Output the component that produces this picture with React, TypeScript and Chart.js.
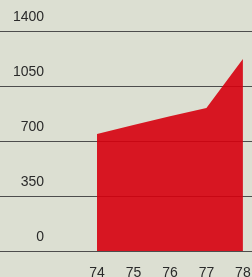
import React, { useEffect, useRef } from "react";
import { Chart, registerables } from "chart.js";

Chart.register(...registerables);

const years = [74, 75, 76, 77, 78];
const values = [745, 802, 858, 910, 1222];
const yTicks = [0, 350, 700, 1050, 1400];

export default function App() {
  const ref = useRef<HTMLCanvasElement | null>(null);

  useEffect(() => {
    if (!ref.current) return;
    const chart = new Chart(ref.current, {
      type: "line",
      data: {
        datasets: [
          {
            data: years.map((y, i) => ({ x: y, y: values[i] })),
            backgroundColor: "rgba(214,0,14,0.9)",
            borderColor: "rgba(214,0,14,0.9)",
            borderWidth: 0,
            pointRadius: 0,
            fill: "origin",
            tension: 0,
          },
        ],
      },
      options: {
        animation: false,
        responsive: false,
        maintainAspectRatio: false,
        layout: { padding: { top: 31, left: 0, right: 0, bottom: 0 } },
        plugins: { legend: { display: false }, tooltip: { enabled: false } },
        scales: {
          x: {
            type: "linear",
            min: 71.34,
            max: 78.25,
            grid: { display: false },
            border: { display: false },
            afterBuildTicks: (scale: any) => {
              scale.ticks = years.map((v) => ({ value: v }));
            },
            afterFit: (scale: any) => {
              scale.height = 26;
              scale.paddingLeft = 0;
              scale.paddingRight = 0;
            },
            ticks: {
              padding: 6,
              maxRotation: 0,
              autoSkip: false,
              color: "#2a2a2a",
              font: { family: "'Liberation Sans', Arial, sans-serif", size: 14 },
              callback: (v: any) => String(v),
            },
          },
          y: {
            min: 0,
            max: 1400,
            afterBuildTicks: (scale: any) => {
              scale.ticks = yTicks.map((v) => ({ value: v }));
            },
            afterFit: (scale: any) => {
              scale.width = 0;
              scale.paddingTop = 0;
              scale.paddingBottom = 0;
            },
            grid: { color: "#4d4d4d", lineWidth: 1, drawTicks: false },
            border: { display: false },
            ticks: {
              mirror: true,
              crossAlign: "far",
              padding: 13,
              labelOffset: -14,
              color: "#2a2a2a",
              font: { family: "'Liberation Sans', Arial, sans-serif", size: 14 },
              callback: (v: any) => String(v),
            },
          },
        },
      },
    });
    return () => chart.destroy();
  }, []);

  return (
    <div
      style={{
        position: "fixed",
        left: 0,
        top: 0,
        width: 252,
        height: 277,
        background: "#dcdfd2",
        overflow: "hidden",
      }}
    >
      <canvas ref={ref} width={252} height={277} style={{ display: "block" }} />
    </div>
  );
}
